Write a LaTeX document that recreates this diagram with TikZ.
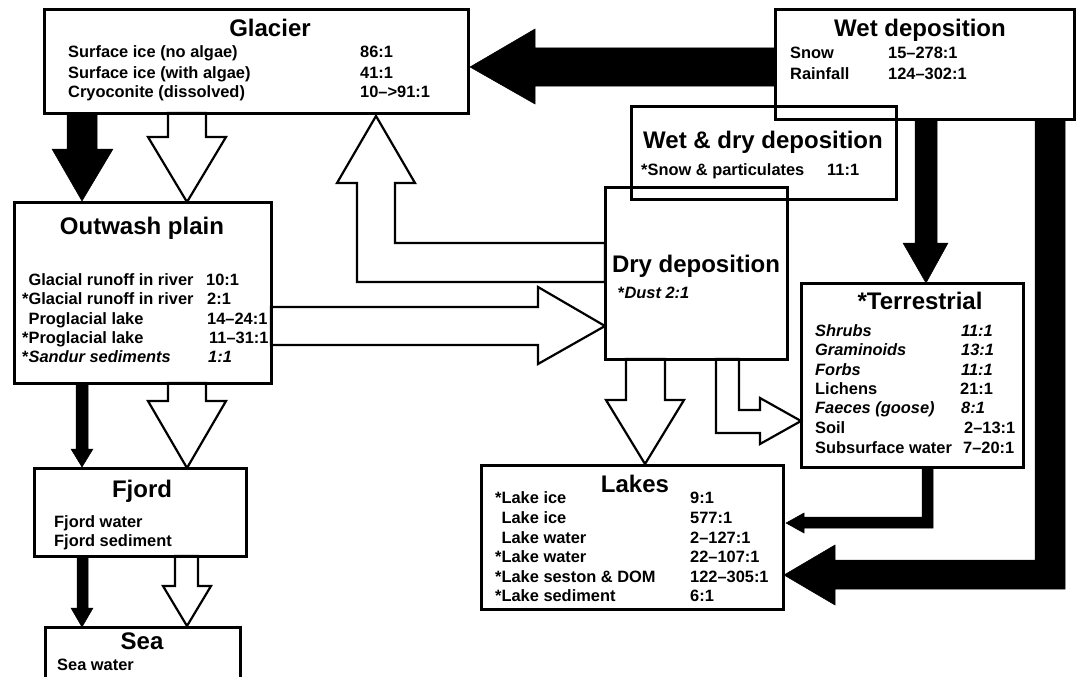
\documentclass[tikz,border=0pt]{standalone}
\usepackage{fontspec}
\setmainfont{Liberation Sans}
\newcommand\myBody{\fontsize{16.4}{19.5}\bfseries\selectfont}
\newcommand\myTitle{\fontsize{24}{28}\bfseries\selectfont}
\begin{document}
\begin{tikzpicture}[x=1pt,y=-1pt,line join=miter,
  box/.style={draw,line width=2.4pt,inner sep=0pt,fill=none},
  ttl/.style={anchor=base,inner sep=0pt,font=\myTitle},
  txt/.style={anchor=base west,inner sep=0pt,font=\myBody},
  blk/.style={fill=black,draw=black,line width=0.5pt},
  wht/.style={fill=white,draw=black,line width=2.2pt}]
\useasboundingbox[fill=white] (0,0) rectangle (1076,677);

% ---- boxes ----
\node[box,minimum width=423pt,minimum height=103pt] (glacier) at (256.5,61.5) {};
\node[box,minimum width=298pt,minimum height=109pt] (wetdep) at (925,64.5) {};
\node[box,minimum width=264pt,minimum height=92pt] (wetdry) at (764,153) {};
\node[box,minimum width=181pt,minimum height=171pt] (dry) at (696.5,273.5) {};
\node[box,minimum width=256pt,minimum height=180pt] (outwash) at (143,293) {};
\node[box,minimum width=221pt,minimum height=183pt] (terr) at (912.5,375.5) {};
\node[box,minimum width=301pt,minimum height=143pt] (lakes) at (632.5,537.5) {};
\node[box,minimum width=211pt,minimum height=87pt] (fjord) at (140.5,512.5) {};
\node[box,minimum width=194pt,minimum height=62pt] (sea) at (143,659) {};

% ---- arrows ----
% wet deposition -> glacier
\path[blk] (776,48) -- (535,48) -- (535,29) -- (470,67) -- (535,104) -- (535,86) -- (776,86) -- cycle;
% glacier -> outwash (black)
\path[blk] (67,113) -- (67,149) -- (52,149) -- (82,201) -- (113,149) -- (97,149) -- (97,113) -- cycle;
% glacier -> outwash (white)
\path[wht] (168,113) -- (168,137) -- (148,137) -- (187,202) -- (226,137) -- (206,137) -- (206,113) -- cycle;
% dry -> glacier (white, L shaped)
\path[wht] (605,243) -- (395,243) -- (395,183) -- (415,183) -- (376,116) -- (337,183) -- (357,183) -- (357,282) -- (605,282) -- cycle;
% outwash -> dry (white)
\path[wht] (271,307) -- (538,307) -- (538,287) -- (605,326) -- (538,364) -- (538,345) -- (271,345) -- cycle;
% wet deposition -> terrestrial
\path[blk] (915,119) -- (915,243) -- (903,243) -- (926,283) -- (948,243) -- (937,243) -- (937,119) -- cycle;
% wet deposition -> lakes (big)
\path[blk] (1035,119) -- (1035,560) -- (835,560) -- (835,545) -- (784,575) -- (835,605) -- (835,589) -- (1065,589) -- (1065,119) -- cycle;
% terrestrial -> lakes
\path[blk] (922,467) -- (922,517) -- (804,517) -- (804,513) -- (786,523) -- (804,533) -- (804,528) -- (933,528) -- (933,467) -- cycle;
% dry -> lakes (white)
\path[wht] (626,359) -- (626,400) -- (606,400) -- (645,464) -- (684,400) -- (665,400) -- (665,359) -- cycle;
% dry -> terrestrial (white, L shaped)
\path[wht] (716,359) -- (716,433) -- (760,433) -- (760,444) -- (801,421) -- (760,398) -- (760,410) -- (739,410) -- (739,359) -- cycle;
% outwash -> fjord
\path[blk] (76,383) -- (76,449) -- (71,449) -- (82,467) -- (93,449) -- (88,449) -- (88,383) -- cycle;
\path[wht] (168,383) -- (168,401) -- (148,401) -- (187,468) -- (226,401) -- (206,401) -- (206,383) -- cycle;
% fjord -> sea
\path[blk] (77,556) -- (77,608) -- (71,608) -- (82,627) -- (93,608) -- (88,608) -- (88,556) -- cycle;
\path[wht] (175,556) -- (175,586) -- (163,586) -- (187,626) -- (211,586) -- (198,586) -- (198,556) -- cycle;

% redraw box borders on top
\foreach \b in {glacier,wetdep,wetdry,dry,outwash,terr,lakes,fjord,sea}
  \draw[line width=2.4pt] (\b.north west) rectangle (\b.south east);

% ---- texts ----
\node[ttl] (tglac) at (270,37) {Glacier};
\node[txt] (g1) at (68,58) {Surface ice (no algae)};
\node[txt] (g2) at (68,78) {Surface ice (with algae)};
\node[txt] (g3) at (68,97) {Cryoconite (dissolved)};
\node[txt] (g1v) at (360,58) {86:1};
\node[txt] (g2v) at (360,78) {41:1};
\node[txt] (g3v) at (360,97) {10–>91:1};

\node[ttl] (twet) at (920,37) {Wet deposition};
\node[txt] (w1) at (790,59) {Snow};
\node[txt] (w2) at (790,79) {Rainfall};
\node[txt] (w1v) at (888,59) {15–278:1};
\node[txt] (w2v) at (888,79) {124–302:1};

\node[ttl] (twd) at (763,148) {Wet \& dry deposition};
\node[txt] (wd1) at (641,175) {*Snow \& particulates};
\node[txt] (wd1v) at (827,175) {11:1};

\node[ttl] (tdry) at (696,272) {Dry deposition};
\node[txt] (d1) at (618,298) {*\itshape Dust 2:1};

\node[ttl] (tout) at (142,234) {Outwash plain};
\node[txt] (o1) at (22,285) {\phantom{*}Glacial runoff in river};
\node[txt] (o2) at (22,304) {*Glacial runoff in river};
\node[txt] (o3) at (22,324) {\phantom{*}Proglacial lake};
\node[txt] (o4) at (22,343) {*Proglacial lake};
\node[txt] (o5) at (22,362) {*\itshape Sandur sediments};
\node[txt] (o1v) at (206,285) {10:1};
\node[txt] (o2v) at (207,304) {2:1};
\node[txt] (o3v) at (207,324) {14–24:1};
\node[txt] (o4v) at (209,343) {11–31:1};
\node[txt] (o5v) at (208,362) {\itshape 1:1};

\node[ttl] (tterr) at (920,309) {*Terrestrial};
\node[txt] (r1) at (815,336) {\itshape Shrubs};
\node[txt] (r2) at (815,355) {\itshape Graminoids};
\node[txt] (r3) at (815,375) {\itshape Forbs};
\node[txt] (r4) at (815,394) {Lichens};
\node[txt] (r5) at (815,413) {\itshape Faeces (goose)};
\node[txt] (r6) at (815,433) {Soil};
\node[txt] (r7) at (815,453) {Subsurface water};
\node[txt] (r1v) at (961,336) {\itshape 11:1};
\node[txt] (r2v) at (961,355) {\itshape 13:1};
\node[txt] (r3v) at (961,375) {\itshape 11:1};
\node[txt] (r4v) at (960,394) {21:1};
\node[txt] (r5v) at (961,413) {\itshape 8:1};
\node[txt] (r6v) at (964,433) {2–13:1};
\node[txt] (r7v) at (963,453) {7–20:1};

\node[ttl] (tlake) at (635,492) {Lakes};
\node[txt] (l1) at (495,503) {*Lake ice};
\node[txt] (l2) at (495,523) {\phantom{*}Lake ice};
\node[txt] (l3) at (495,543) {\phantom{*}Lake water};
\node[txt] (l4) at (495,562) {*Lake water};
\node[txt] (l5) at (495,582) {*Lake seston \& DOM};
\node[txt] (l6) at (495,601) {*Lake sediment};
\node[txt] (l1v) at (690,503) {9:1};
\node[txt] (l2v) at (690,523) {577:1};
\node[txt] (l3v) at (690,543) {2–127:1};
\node[txt] (l4v) at (690,562) {22–107:1};
\node[txt] (l5v) at (690,582) {122–305:1};
\node[txt] (l6v) at (690,601) {6:1};

\node[ttl] (tfj) at (142,497) {Fjord};
\node[txt] (f1) at (54,527) {Fjord water};
\node[txt] (f2) at (54,546) {Fjord sediment};

\node[ttl] (tsea) at (142,649) {Sea};
\node[txt] (s1) at (57,670) {Sea water};
\end{tikzpicture}
\end{document}
